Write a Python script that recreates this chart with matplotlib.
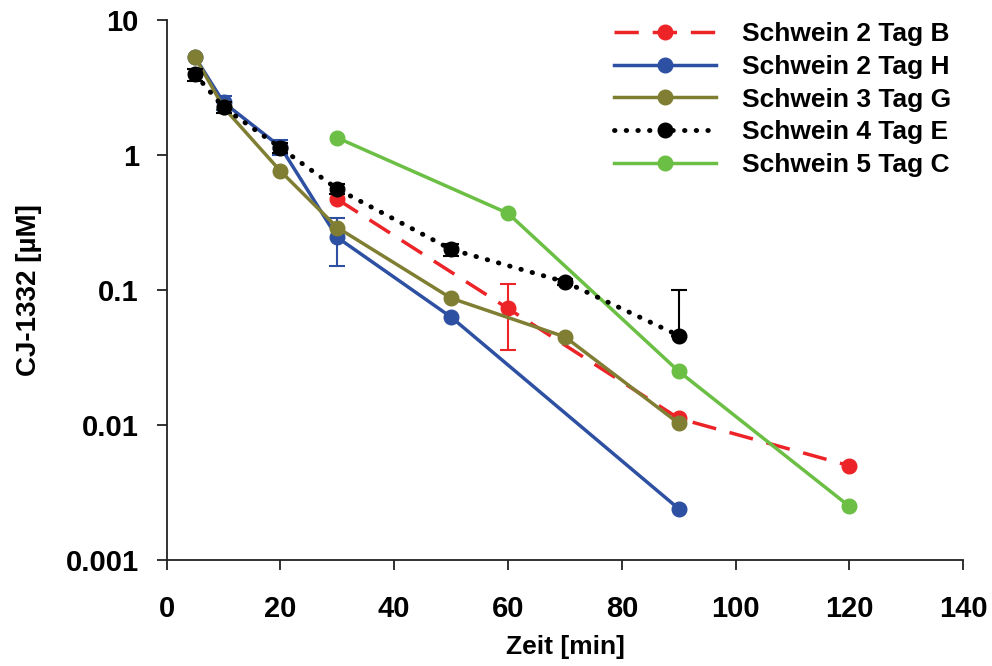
import numpy as np
import matplotlib
matplotlib.use("Agg")
import matplotlib.pyplot as plt
from matplotlib.ticker import FixedLocator, NullLocator, FuncFormatter

plt.rcParams['font.family'] = ['Liberation Sans', 'DejaVu Sans']
plt.rcParams['font.weight'] = 'bold'

# data
t_b = [30, 60, 90, 120]
c_b = [0.47, 0.073, 0.0112, 0.0050]
e_b = [0, 0.037, 0, 0]

t_h = [5, 10, 20, 30, 50, 90]
c_h = [5.3, 2.45, 1.15, 0.245, 0.063, 0.0024]
e_h = [0, 0.3, 0.15, 0.095, 0, 0]

t_g = [5, 10, 20, 30, 50, 70, 90]
c_g = [5.3, 2.25, 0.76, 0.29, 0.087, 0.045, 0.0103]

t_e = [5, 10, 20, 30, 50, 70, 90]
c_e = [3.96, 2.25, 1.13, 0.56, 0.20, 0.115, 0.046]
e_e_lo = [0.4, 0.2, 0.1, 0.05, 0.02, 0.006, 0]
e_e_hi = [0.4, 0.2, 0.1, 0.05, 0.02, 0.006, 0.054]

t_c = [30, 60, 90, 120]
c_c = [1.34, 0.37, 0.025, 0.0025]

labels = ["Schwein 2 Tag B", "Schwein 2 Tag H", "Schwein 3 Tag G",
          "Schwein 4 Tag E", "Schwein 5 Tag C"]

red = "#ED2427"
blue = "#2E50A2"
olive = "#7F7E33"
green = "#6CBF45"

fig = plt.figure(figsize=(9.92, 6.66), dpi=100)
ax = fig.add_axes([0.168, 0.159, 0.803, 0.811])

ms = 10.5
lw = 2.5
cap = 6


def err(x, y, lo, hi, color, z):
    # only points that really have an error bar
    idx = [i for i in range(len(x)) if lo[i] > 0 or hi[i] > 0]
    xs = [x[i] for i in idx]
    ys = [y[i] for i in idx]
    lo_s = [lo[i] for i in idx]
    hi_s = [hi[i] for i in idx]
    ax.errorbar(xs, ys, yerr=[lo_s, hi_s], fmt='none', ecolor=color,
                elinewidth=1.5, capsize=cap, capthick=1.5, zorder=z)


l_h, = ax.plot(t_h, c_h, color=blue, lw=lw, marker='o', ms=ms, zorder=2)
err(t_h, c_h, e_h, e_h, blue, 2)
l_b, = ax.plot(t_b, c_b, color=red, lw=lw, marker='o', ms=ms, dashes=(7, 4),
               zorder=3)
err(t_b, c_b, e_b, e_b, red, 3)
l_g, = ax.plot(t_g, c_g, color=olive, lw=lw, marker='o', ms=ms, zorder=4)
l_c, = ax.plot(t_c, c_c, color=green, lw=lw, marker='o', ms=ms, zorder=5)
l_e, = ax.plot(t_e, c_e, color='black', lw=3.5, marker='o', ms=ms,
               dashes=(0.1, 2.3), zorder=6)
l_e.set_dash_capstyle('round')
err(t_e, c_e, e_e_lo, e_e_hi, 'black', 6)

ax.set_yscale('log')
ax.set_xlim(0, 140)
ax.set_ylim(0.001, 10)
ax.set_xticks(np.arange(0, 141, 20))
ax.yaxis.set_major_locator(FixedLocator([0.001, 0.01, 0.1, 1, 10]))
ax.yaxis.set_minor_locator(NullLocator())
ax.yaxis.set_major_formatter(FuncFormatter(lambda v, p: "%g" % v))

for s in ['top', 'right']:
    ax.spines[s].set_visible(False)
for s in ['left', 'bottom']:
    ax.spines[s].set_linewidth(1.3)
    ax.spines[s].set_color('#222222')
ax.tick_params(axis='both', direction='out', length=7, width=1.3,
               color='#222222', labelsize=21)
ax.tick_params(axis='x', pad=18)
ax.tick_params(axis='y', pad=13)
for lab in ax.get_xticklabels() + ax.get_yticklabels():
    lab.set_fontweight('bold')

ax.set_xlabel("Zeit [min]", fontsize=19, fontweight='bold', labelpad=9)
ax.set_ylabel("CJ-1332 [µM]", fontsize=20, fontweight='bold', labelpad=17)

leg = ax.legend([l_b, l_h, l_g, l_e, l_c], labels, loc='upper right',
                bbox_to_anchor=(1.015, 1.04), frameon=False, fontsize=19,
                handlelength=3.85, handletextpad=1.0, labelspacing=0.33)
for t in leg.get_texts():
    t.set_fontweight('bold')

fig.savefig("out.png", dpi=100)
